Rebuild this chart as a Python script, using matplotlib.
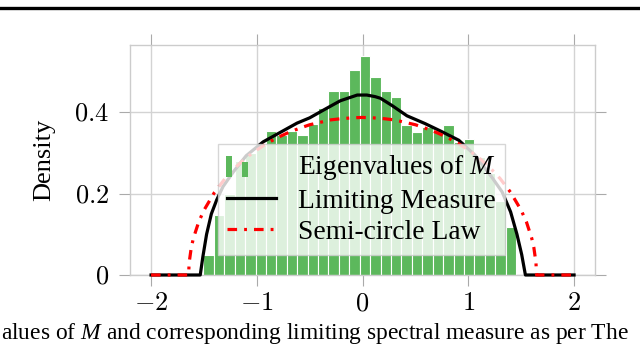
import numpy as np
import matplotlib
matplotlib.use("Agg")
import matplotlib.pyplot as plt
from matplotlib.legend_handler import HandlerBase
from matplotlib.patches import Rectangle
from matplotlib.lines import Line2D

plt.rcParams['font.family'] = ['Liberation Serif', 'DejaVu Serif']
plt.rcParams['mathtext.fontset'] = 'custom'
plt.rcParams['mathtext.rm'] = 'cmr10'
plt.rcParams['mathtext.it'] = 'Liberation Serif:italic'
plt.rcParams['mathtext.fallback'] = 'cm'

# histogram of eigenvalues (30 bins between min and max eigenvalue)
hist_range = (-1.505, 1.452)
hist_heights = [0.049, 0.147, 0.20, 0.28, 0.30, 0.32, 0.353, 0.343, 0.353, 0.345,
                0.37, 0.41, 0.452, 0.452, 0.503, 0.537, 0.487, 0.453, 0.436, 0.369,
                0.352, 0.363, 0.355, 0.368, 0.326, 0.335, 0.29, 0.25, 0.182, 0.117]

# limiting spectral measure
lim_x = [-2.0, -1.535, -1.51, -1.475, -1.43, -1.38, -1.32, -1.22, -1.1, -0.94,
         -0.78, -0.62, -0.5, -0.37, -0.21, -0.05, 0.04, 0.12, 0.17, 0.28,
         0.42, 0.59, 0.75, 0.91, 1.065, 1.22, 1.32, 1.40, 1.46, 1.505, 1.54, 2.0]
lim_y = [0.0, 0.0, 0.045, 0.10, 0.15, 0.184, 0.217, 0.254, 0.293, 0.327,
         0.350, 0.373, 0.386, 0.405, 0.428, 0.442, 0.442, 0.438, 0.434, 0.416,
         0.391, 0.372, 0.352, 0.331, 0.294, 0.241, 0.204, 0.155, 0.10, 0.05, 0.0, 0.0]

# semi-circle law
sc_x = [-2.0, -1.645, -1.64, -1.62, -1.6, -1.55, -1.5, -1.4, -1.3, -1.2, -1.1, -1.0,
        -0.9, -0.8, -0.7, -0.6, -0.5, -0.4, -0.3, -0.2, -0.1, 0.0,
        0.1, 0.2, 0.3, 0.4, 0.5, 0.6, 0.7, 0.8, 0.9, 1.0, 1.1, 1.2, 1.3, 1.4,
        1.5, 1.55, 1.6, 1.62, 1.64, 1.645, 2.0]
sc_y = [0.0, 0.0, 0.030, 0.067, 0.090, 0.130, 0.159, 0.203, 0.237, 0.265, 0.288, 0.307,
        0.324, 0.338, 0.350, 0.360, 0.369, 0.375, 0.381, 0.384, 0.386, 0.387,
        0.386, 0.384, 0.381, 0.375, 0.369, 0.360, 0.350, 0.338, 0.324, 0.307, 0.288,
        0.265, 0.237, 0.203, 0.159, 0.130, 0.090, 0.067, 0.030, 0.0, 0.0]

x_ticks = [-2, -1, 0, 1, 2]
x_ticklabels = [r'$-2$', r'$-1$', r'$0$', r'$1$', r'$2$']
y_ticks = [0, 0.2, 0.4]
y_ticklabels = [r'$0$', r'$0.2$', r'$0.4$']

green = '#5cb85c'
grid_col = '#d3d3d3'


class TwoBars(HandlerBase):
    # pgfplots style legend image: two small bars
    def create_artists(self, legend, orig_handle, xdescent, ydescent,
                       width, height, fontsize, trans):
        bw = 0.13 * width
        y0 = -ydescent - 0.12 * height
        r1 = Rectangle((-xdescent - 0.04 * width, y0), bw, 1.1 * height,
                       facecolor=green, edgecolor='none', transform=trans)
        r2 = Rectangle((-xdescent + 0.30 * width, y0), bw, 0.78 * height,
                       facecolor=green, edgecolor='none', transform=trans)
        return [r1, r2]


fig = plt.figure(figsize=(6.4, 3.48), dpi=100)
ax = fig.add_axes([0.203, 0.2098, 0.727, 0.661])

edges = np.linspace(hist_range[0], hist_range[1], len(hist_heights) + 1)
bars = ax.bar(edges[:-1], hist_heights, width=np.diff(edges), align='edge',
              color=green, edgecolor='white', linewidth=0.8, zorder=2)
l1, = ax.plot(lim_x, lim_y, color='black', lw=2.3, zorder=3, clip_on=False)
l2, = ax.plot(sc_x, sc_y, color='red', lw=2.3, ls=(0, (3, 2.2, 0.9, 2.2)),
              zorder=3, clip_on=False)

ax.set_xlim(-2.2, 2.2)
ax.set_ylim(0, 0.565)
ax.set_xticks(x_ticks)
ax.set_xticklabels(x_ticklabels)
ax.set_yticks(y_ticks)
ax.set_yticklabels(y_ticklabels)
ax.tick_params(direction='out', length=8, width=0.8, color='#aaaaaa',
               labelsize=19, top=True, right=True, pad=5)
ax.tick_params(axis='y', pad=7)
ax.grid(True, color=grid_col, lw=1)
ax.set_axisbelow(True)
for s in ax.spines.values():
    s.set_color('#cccccc')
    s.set_linewidth(1)

ax.set_ylabel('Density', fontsize=19)
ax.yaxis.set_label_coords(-0.16, 0.5)

leg = ax.legend([bars, l1, l2],
                [r'Eigenvalues of $M$', 'Limiting Measure', 'Semi-circle Law'],
                handler_map={type(bars): TwoBars()},
                loc='upper left', bbox_to_anchor=(0.189, 0.570),
                borderaxespad=0, fontsize=19.8, fancybox=False, framealpha=0.8,
                edgecolor='#cccccc', handlelength=1.75, handletextpad=0.8,
                labelspacing=0.22, borderpad=0.35)
leg.set_zorder(5)
leg.get_frame().set_linewidth(1)

# page decorations: rule above, caption below
fig.add_artist(Line2D([0, 1], [0.976, 0.976], transform=fig.transFigure,
                      color='black', lw=2.4))
fig.text(0.002, 0.025, r'alues of $M$ and corresponding limiting spectral measure as per The',
         fontsize=16.9, ha='left', va='baseline')

fig.savefig('out.png', dpi=100)
